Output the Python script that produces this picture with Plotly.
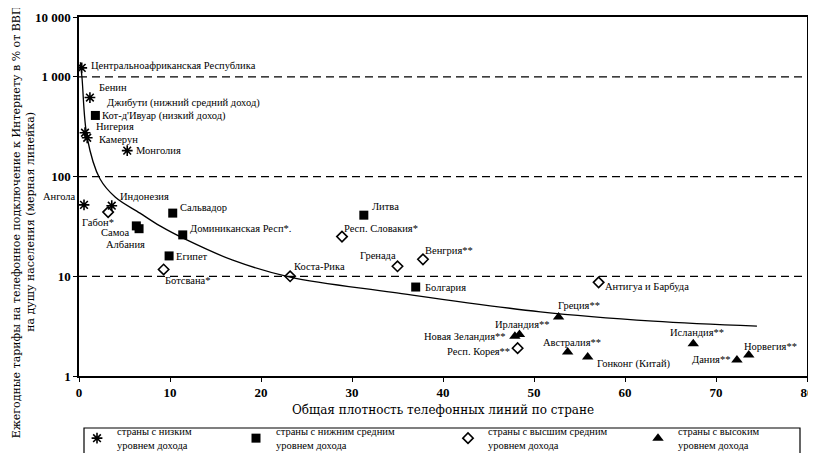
import math
import plotly.graph_objects as go

# ---------------- data ----------------
countries = [
    "Центральноафриканская Республика", "Бенин", "Кот-д'Ивуар (низкий доход)", "Нигерия", "Камерун",
    "Монголия", "Ангола", "Индонезия", "Габон*", "Самоа", "Албания", "Сальвадор",
    "Доминиканская Респ*.", "Египет", "Ботсвана*", "Коста-Рика", "Литва", "Респ. Словакия*",
    "Гренада", "Венгрия**", "Болгария", "Ирландия**", "Новая Зеландия**", "Респ. Корея**",
    "Антигуа и Барбуда", "Греция**", "Австралия**", "Гонконг (Китай)", "Исландия**",
    "Дания**", "Норвегия**",
]
teledensity = [0.3, 1.2, 1.8, 0.66, 0.9, 5.3, 0.55, 3.6, 3.2, 6.3, 6.6, 10.3,
               11.4, 9.9, 9.3, 23.2, 31.3, 28.9, 35.0, 37.8, 37.0, 48.4, 47.9, 48.2,
               57.1, 52.7, 53.7, 55.9, 67.5, 72.3, 73.6]
tariff = [1230, 620, 410, 275, 245, 182, 52, 51, 44, 32, 30, 43,
          26, 16, 11.7, 10, 41, 25, 12.6, 14.8, 7.8, 2.6, 2.5, 1.9,
          8.7, 3.9, 1.74, 1.55, 2.1, 1.45, 1.62]
group = ["low", "low", "lowmid", "low", "low", "low", "low", "low", "upmid", "lowmid", "lowmid", "lowmid",
         "lowmid", "lowmid", "upmid", "upmid", "lowmid", "upmid", "upmid", "upmid", "lowmid", "high", "high", "upmid",
         "upmid", "high", "high", "high", "high", "high", "high"]

extra_label = "Джибути (нижний средний доход)"

trend_x = [0.15, 0.33, 0.9, 2.3, 4.0, 6.7, 8.9, 11.9, 16.9, 23.2, 34.5, 50.7, 63.1, 74.5]
trend_y = [1400, 980, 245, 95, 62, 43, 32, 23, 14.5, 9.8, 6.9, 4.4, 3.55, 3.16]

ref_levels = [10, 100, 1000]
x_ticks = [0, 10, 20, 30, 40, 50, 60, 70, 80]
y_tick_text = ["1", "10", "100", "1 000", "10 000"]

group_order = ["low", "lowmid", "upmid", "high"]
group_names = {
    "low": "страны с низким<br>уровнем дохода",
    "lowmid": "страны с нижним средним<br>уровнем дохода",
    "upmid": "страны с высшим средним<br>уровнем дохода",
    "high": "страны с высоким<br>уровнем дохода",
}

# ---------------- styles ----------------
SERIF = "Liberation Serif"
WIDE_SERIF = "DejaVu Serif"
Y_TOP_LOG = 3.6
FIG_W, FIG_H = 808, 445   # page body has an 8px margin
PLOT_L, PLOT_T, PLOT_W, PLOT_H = 71, 9, 728, 359
marker_styles = {
    "low": dict(symbol="asterisk-open", size=9, color="black", line=dict(color="black", width=1.6)),
    "lowmid": dict(symbol="square", size=9, color="black", line=dict(color="black", width=0)),
    "upmid": dict(symbol="diamond-open", size=8, color="black", line=dict(color="black", width=1.6)),
    "high": dict(symbol="triangle-up", size=10, color="black", line=dict(color="black", width=0)),
}
legend_ids = {"low": "legend", "lowmid": "legend2", "upmid": "legend3", "high": "legend4"}
legend_x_px = {"low": 69, "lowmid": 228, "upmid": 440, "high": 630}   # figure px
LEGEND_TOP_PX = 410
BOX_PX = (76, 420, 792, 460)
# label placement: (xanchor, xshift, yshift)
label_pos = [
    ("left", 7, 2), ("left", 7, 10), ("left", 5, -1), ("left", 9, 6), ("left", 10, -2),
    ("left", 7, 0), ("right", -6, 8), ("left", 6, 9), ("center", -10, -10), ("right", -4, -7),
    ("center", -14, -16), ("left", 5, 6), ("left", 5, 6), ("left", 5, -1), ("left", -1, -11),
    ("left", 2, 10), ("left", 6, 9), ("left", 0, 8), ("right", 0, 11), ("left", 0, 9),
    ("left", 7, 0), ("left", -26, 10), ("right", -7, 0), ("right", -6, -3), ("left", 4, -4),
    ("left", -3, 12), ("center", 4, 10), ("left", 7, -7), ("center", 4, 11), ("right", -5, 0),
    ("left", -7, 9),
]

fig = go.Figure()

# trend curve
fig.add_trace(go.Scatter(x=trend_x, y=trend_y, mode="lines",
                         line=dict(color="black", width=1.3, shape="spline", smoothing=1.0),
                         showlegend=False, hoverinfo="skip"))

for g in group_order:
    idx = [i for i, gg in enumerate(group) if gg == g]
    fig.add_trace(go.Scatter(
        x=[teledensity[i] for i in idx], y=[tariff[i] for i in idx],
        mode="markers", name=group_names[g], marker=marker_styles[g],
        text=[countries[i] for i in idx], legend=legend_ids[g], showlegend=True))

label_font = dict(family=SERIF, size=10.5, color="black")
annotations = []
for i, name in enumerate(countries):
    xa, xs, ys = label_pos[i]
    annotations.append(dict(x=teledensity[i], y=math.log10(tariff[i]), text=name,
                            showarrow=False, xanchor=xa, yanchor="middle", xshift=xs, yshift=ys,
                            font=label_font))
ci = countries.index("Кот-д'Ивуар (низкий доход)")
annotations.append(dict(x=teledensity[ci], y=math.log10(tariff[ci]), text=extra_label,
                        showarrow=False, xanchor="left", yanchor="middle", xshift=10, yshift=12,
                        font=label_font))
# y-axis title (two lines, rotated)
annotations.append(dict(x=-0.076, y=0.43, xref="paper", yref="paper",
                        text="Ежегодные тарифы на телефонное подключение к Интернету в % от ВВП<br>на душу населения (мерная линейка)",
                        textangle=-90, showarrow=False, xanchor="center", yanchor="middle",
                        font=dict(family=WIDE_SERIF, size=11, color="black")))

def px_to_paper_x(px):
    return (px - PLOT_L) / PLOT_W

def px_to_paper_y(py):
    return (PLOT_T + PLOT_H - py) / PLOT_H

shapes = [dict(type="line", xref="paper", x0=0, x1=1, yref="y", y0=v, y1=v,
               line=dict(color="black", width=1.3, dash="8px,5px")) for v in ref_levels]
# legend frame
shapes.append(dict(type="rect", xref="paper", yref="paper",
                   x0=px_to_paper_x(BOX_PX[0]), x1=px_to_paper_x(BOX_PX[2]),
                   y0=px_to_paper_y(BOX_PX[1]), y1=px_to_paper_y(BOX_PX[3]),
                   line=dict(color="black", width=1.2), fillcolor="rgba(0,0,0,0)"))

legend_common = dict(orientation="h", xref="container", yref="container",
                     xanchor="left", yanchor="top", borderwidth=0, bgcolor="rgba(0,0,0,0)",
                     font=dict(family=SERIF, size=10.5, color="black"), itemsizing="trace")
legends = {}
for g in group_order:
    legends[legend_ids[g]] = dict(legend_common, x=legend_x_px[g] / FIG_W, y=1 - LEGEND_TOP_PX / FIG_H)

fig.update_layout(
    width=FIG_W, height=FIG_H,
    margin=dict(l=PLOT_L, r=FIG_W - PLOT_L - PLOT_W, t=PLOT_T, b=FIG_H - PLOT_T - PLOT_H, autoexpand=False),
    paper_bgcolor="white", plot_bgcolor="white",
    font=dict(family=SERIF, color="black"),
    annotations=annotations, shapes=shapes,
    xaxis=dict(range=[0, 80], tickvals=x_ticks, showgrid=False, zeroline=False, automargin=False,
               showline=True, linecolor="black", linewidth=1.5, mirror=True,
               ticks="outside", ticklen=4, tickcolor="black",
               tickfont=dict(family=SERIF, size=13, weight="bold", color="black"),
               title=dict(text="Общая плотность телефонных линий по стране",
                          font=dict(family=WIDE_SERIF, size=12, color="black"), standoff=6)),
    yaxis=dict(type="log", range=[0, Y_TOP_LOG], automargin=False,
               tickvals=[1, 10, 100, 1000, 10 ** Y_TOP_LOG], ticktext=y_tick_text,
               showgrid=False, zeroline=False,
               showline=True, linecolor="black", linewidth=1.5, mirror=True,
               ticks="outside", ticklen=4, tickcolor="black",
               tickfont=dict(family=SERIF, size=13, weight="bold", color="black")),
    **legends,
)

fig.write_html("out.html")
